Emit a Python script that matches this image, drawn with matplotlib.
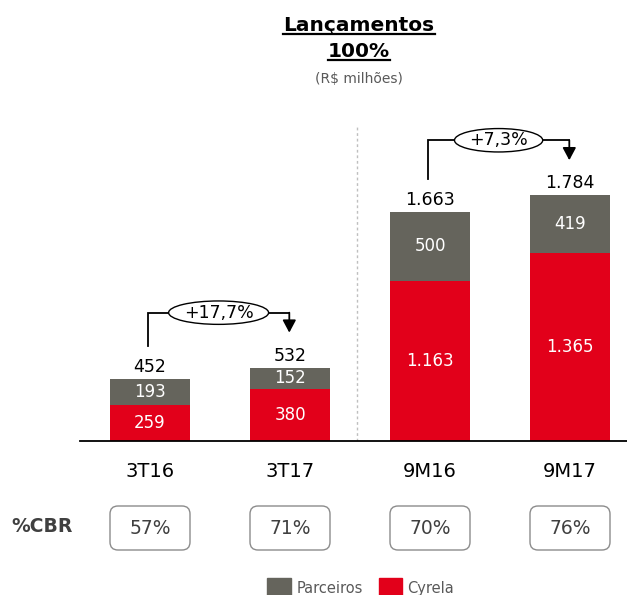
import matplotlib
matplotlib.use('Agg')
import matplotlib.pyplot as plt
from matplotlib.patches import Ellipse, FancyBboxPatch, Rectangle
from matplotlib.lines import Line2D
import numpy as np

categories = ['3T16', '3T17', '9M16', '9M17']
cyrela = [259, 380, 1163, 1365]
parceiros = [193, 152, 500, 419]
totals = [452, 532, 1663, 1784]
cyrela_labels = ['259', '380', '1.163', '1.365']
parceiros_labels = ['193', '152', '500', '419']
total_labels = ['452', '532', '1.663', '1.784']
cbr_labels = ['57%', '71%', '70%', '76%']
growth_labels = ['+17,7%', '+7,3%']
growth_pairs = [(0, 1), (2, 3)]

RED = '#E2001A'
GRAY = '#65645C'
TXTGRAY = '#595959'
DARK = '#404040'

plt.rcParams['font.family'] = ['DejaVu Sans']

W, H = 627, 595
fig = plt.figure(figsize=(W / 100, H / 100), dpi=100)
ax = fig.add_axes([80 / W, 154 / H, 547 / W, 341 / H])
x = np.arange(len(categories))
bw = 0.565
ax.bar(x, cyrela, width=bw, color=RED, zorder=2)
ax.bar(x, parceiros, bottom=cyrela, width=bw, color=GRAY, zorder=2)
ax.set_xlim(-0.5, 3 + 57 / 140)
ax.set_ylim(0, 341 / 0.1377)
for s in ['top', 'left', 'right']:
    ax.spines[s].set_visible(False)
ax.spines['bottom'].set_linewidth(1.3)
ax.spines['bottom'].set_color('black')
ax.set_xticks([])
ax.set_yticks([])
ax.patch.set_alpha(0)

for i in range(len(categories)):
    ax.text(i, cyrela[i] / 2, cyrela_labels[i], ha='center', va='center',
            color='white', fontsize=12, zorder=3)
    ax.text(i, cyrela[i] + parceiros[i] / 2, parceiros_labels[i], ha='center',
            va='center', color='white', fontsize=12, zorder=3)
    ax.annotate(total_labels[i], (i, totals[i]), xytext=(0, 7),
                textcoords='offset pixels', ha='center', va='baseline',
                fontsize=12.5, annotation_clip=False)
    ax.annotate(categories[i], (i, 0), xytext=(0, -36),
                textcoords='offset pixels', ha='center', va='baseline',
                fontsize=14, annotation_clip=False)

# separator
ax.plot([1.48, 1.48], [0, 2288], color='#BFBFBF', ls=(0, (2, 2)), lw=1, zorder=1)

# growth connectors
for (a, b), g in zip(growth_pairs, growth_labels):
    start = totals[a] + 240
    level = max(totals[a], totals[b]) + 400
    tip = totals[b] + 255
    xa, xb = a - 0.015, b - 0.005
    ax.plot([xa, xa, xb], [start, level, level], color='k', lw=1.3,
            clip_on=False, solid_joinstyle='miter')
    ax.annotate('', xy=(xb, tip), xytext=(xb, level),
                arrowprops=dict(arrowstyle='-|>,head_length=0.75,head_width=0.4',
                                color='k', lw=1.3, shrinkA=0, shrinkB=0))
    ew = 0.084 * len(g) + 0.21
    ax.add_patch(Ellipse(((xa + xb) / 2, level), ew, 170, facecolor='white',
                         edgecolor='k', lw=1, zorder=4, clip_on=False))
    ax.text((xa + xb) / 2, level, g, ha='center', va='center', fontsize=12.5,
            zorder=5)

# titles
t1 = fig.text(359 / W, 1 - 31 / H, 'Lançamentos', ha='center', va='baseline',
              fontsize=14.5, fontweight='bold')
t2 = fig.text(359 / W, 1 - 57 / H, '100%', ha='center', va='baseline',
              fontsize=14.5, fontweight='bold')
fig.text(359 / W, 1 - 79 / H, '(R$ milhões)', ha='center', va='center',
         fontsize=10, color=TXTGRAY)

fig.canvas.draw()
r = fig.canvas.get_renderer()
for t, yb in [(t1, 34), (t2, 60)]:
    bb = t.get_window_extent(r)
    fig.add_artist(Line2D([bb.x0 / W, bb.x1 / W], [1 - yb / H, 1 - yb / H],
                          transform=fig.transFigure, color='k', lw=1.6))

# overlay in pixel coords
ov = fig.add_axes([0, 0, 1, 1])
ov.set_xlim(0, W)
ov.set_ylim(H, 0)
ov.axis('off')
ov.patch.set_alpha(0)

for i in range(len(categories)):
    cx = ax.transData.transform((i, 0))[0]
    ov.add_patch(FancyBboxPatch((cx - 40, 506), 80, 44,
                                boxstyle='round,pad=0,rounding_size=8',
                                ec='#8C8C8C', fc='white', lw=1))
    ov.text(cx, 529, cbr_labels[i], ha='center', va='center', fontsize=13.5,
            color=DARK)
ov.text(42, 527, '%CBR', ha='center', va='center', fontsize=13.5,
        fontweight='bold', color=DARK)

ov.add_patch(Rectangle((267, 578), 24, 17, color=GRAY))
ov.text(297, 593, 'Parceiros', ha='left', va='baseline', fontsize=10.5, color=TXTGRAY)
ov.add_patch(Rectangle((379, 578), 23, 17, color=RED))
ov.text(407, 593, 'Cyrela', ha='left', va='baseline', fontsize=10.5, color=TXTGRAY)

fig.savefig('out.png', dpi=100)
